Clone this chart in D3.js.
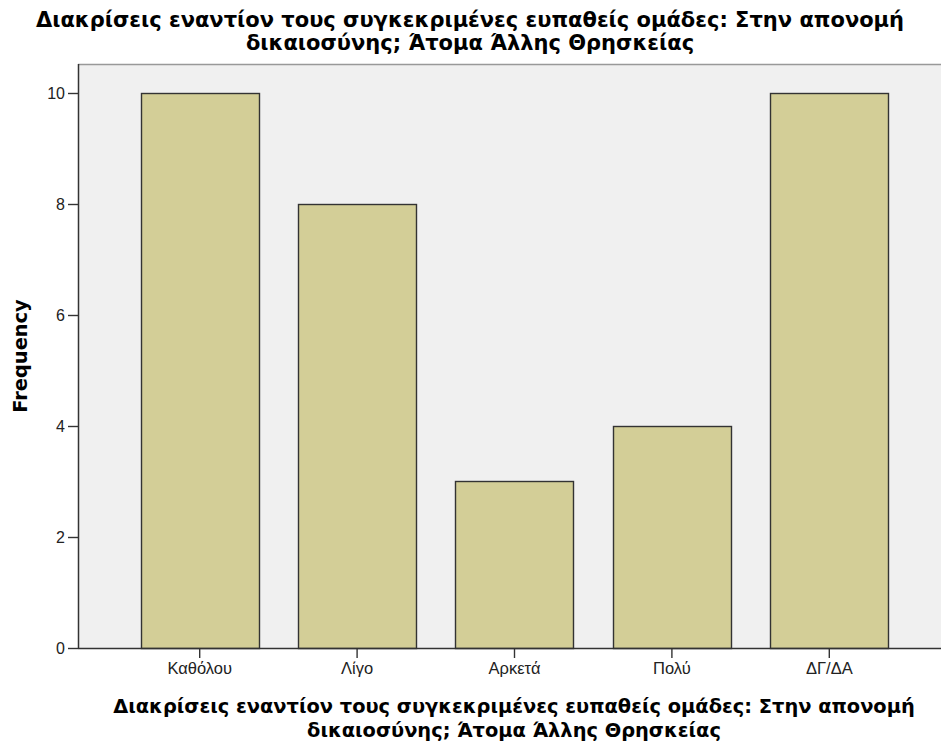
<!DOCTYPE html>
<html>
<head>
<meta charset="utf-8">
<script src="https://cdn.jsdelivr.net/npm/d3@7"></script>
<style>
    body { margin: 0; background: #fff; }
    svg { display: block; }
</style>
</head>
<body>
<svg class="chart" width="941" height="747"></svg>
<script>
var categories = ['Καθόλου', 'Λίγο', 'Αρκετά', 'Πολύ', 'ΔΓ/ΔΑ'];
var frequencies = [10, 8, 3, 4, 10];
var yTicks = [0, 2, 4, 6, 8, 10];
var titleLines = ['Διακρίσεις εναντίον τους συγκεκριμένες ευπαθείς ομάδες: Στην απονομή', 'δικαιοσύνης; Άτομα Άλλης Θρησκείας'];
var yTitle = 'Frequency';

var plotLeft = 78, plotTop = 64, plotRight = 941, plotBottom = 648;
var backgroundColor = '#f0f0f0';
var barColor = '#d3ce97';
var strokeColor = '#333';
var boldFont = 'DejaVu Sans, Verdana, sans-serif';
var tickFont = 'Liberation Sans, Arial, sans-serif';

var svg = d3.select('.chart');

var xScale = d3.scaleBand().domain(categories).range([121, 908]).paddingInner(0.25).paddingOuter(0.125);
var yScale = d3.scaleLinear().domain([0, 10]).range([plotBottom, 93]);

// Plot background
svg.append('rect')
    .attr('x', plotLeft)
    .attr('y', plotTop)
    .attr('width', plotRight - plotLeft)
    .attr('height', plotBottom - plotTop)
    .style('fill', backgroundColor);
svg.append('line')
    .attr('x1', plotLeft).attr('x2', plotRight)
    .attr('y1', plotTop + 0.5).attr('y2', plotTop + 0.5)
    .style('stroke', '#999').style('stroke-width', 1.5);

// Bars
svg.append('g')
    .selectAll('rect')
    .data(frequencies)
    .join('rect')
    .attr('x', function(d, i) { return Math.round(xScale(categories[i])) + 0.5; })
    .attr('y', function(d) { return Math.round(yScale(d)) + 0.5; })
    .attr('width', Math.round(xScale.bandwidth()))
    .attr('height', function(d) { return Math.round(yScale(0)) - Math.round(yScale(d)); })
    .style('fill', barColor)
    .style('stroke', strokeColor)
    .style('stroke-width', 1.4);

// Axes
var yAxis = d3.axisLeft(yScale).tickValues(yTicks).tickSize(10).tickSizeOuter(0).tickPadding(3);
var yg = svg.append('g')
    .attr('transform', 'translate(' + plotLeft + ',0)')
    .call(yAxis);
yg.select('.domain').attr('d', 'M0.5,' + plotTop + 'V' + plotBottom).style('stroke', strokeColor).style('stroke-width', 1.5);
yg.selectAll('.tick line').style('stroke', strokeColor).style('stroke-width', 1.4);
yg.selectAll('text').style('font-family', tickFont).style('font-size', '16px').style('fill', '#222');

var xAxis = d3.axisBottom(xScale).tickSize(10).tickSizeOuter(0).tickPadding(4);
var xg = svg.append('g')
    .attr('transform', 'translate(0,' + plotBottom + ')')
    .call(xAxis);
xg.select('.domain').attr('d', 'M' + plotLeft + ',0.5H' + plotRight).style('stroke', strokeColor).style('stroke-width', 1.5);
xg.selectAll('.tick line').style('stroke', strokeColor).style('stroke-width', 1.4);
xg.selectAll('text').style('font-family', tickFont).style('font-size', '16.5px').style('fill', '#222');

// Titles
svg.append('text')
    .attr('text-anchor', 'middle')
    .style('font-family', boldFont)
    .style('font-size', '21px')
    .style('font-weight', 'bold')
    .style('fill', '#000')
    .selectAll('tspan')
    .data(titleLines)
    .join('tspan')
    .attr('x', 470)
    .attr('y', function(d, i) { return 27 + i * 23; })
    .text(function(d) { return d; });

svg.append('text')
    .attr('text-anchor', 'middle')
    .style('font-family', boldFont)
    .style('font-size', '19.4px')
    .style('font-weight', 'bold')
    .style('fill', '#000')
    .selectAll('tspan')
    .data(titleLines)
    .join('tspan')
    .attr('x', 514)
    .attr('y', function(d, i) { return 713 + i * 24; })
    .text(function(d) { return d; });

svg.append('text')
    .attr('transform', 'translate(27,' + 356 + ') rotate(-90)')
    .attr('text-anchor', 'middle')
    .style('font-family', boldFont)
    .style('font-size', '19.4px')
    .style('font-weight', 'bold')
    .style('fill', '#000')
    .text(yTitle);
</script>
</body>
</html>
